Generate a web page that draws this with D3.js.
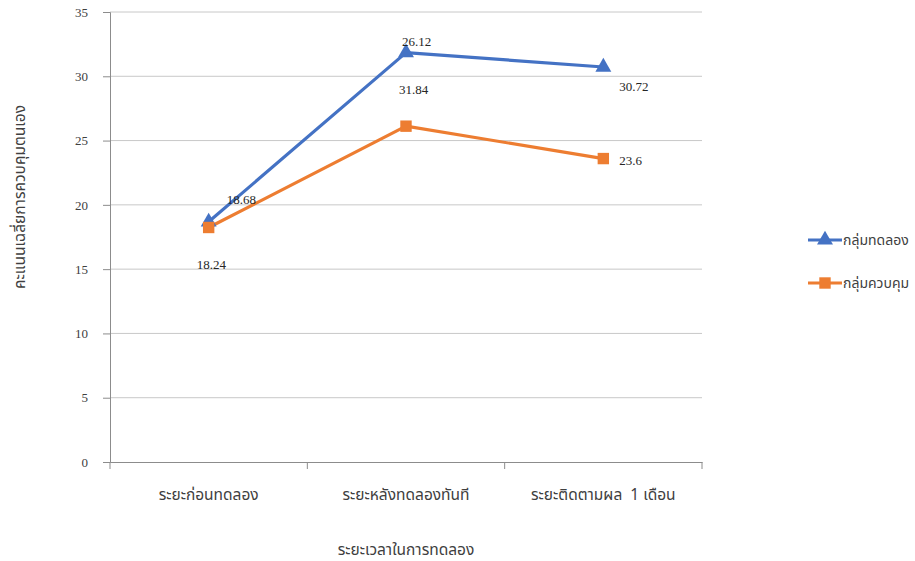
<!DOCTYPE html>
<html>
<head>
<meta charset="utf-8">
<script src="https://cdn.jsdelivr.net/npm/d3@7/dist/d3.min.js"></script>
<style>
  body { margin: 0; background: #fff; }
  svg { display: block; }
</style>
</head>
<body>
<svg id="chart" width="915" height="561"></svg>
<script>
// Categories (time points) and series values
const categories = ["ระยะก่อนทดลอง", "ระยะหลังทดลองทันที", "ระยะติดตามผล  1 เดือน"];
const seriesNames = ["กลุ่มทดลอง", "กลุ่มควบคุม"];
const experimentalValues = [18.68, 31.84, 30.72];
const controlValues = [18.24, 26.12, 23.6];
const yTicks = [0, 5, 10, 15, 20, 25, 30, 35];
const yTitle = "คะแนนเฉลี่ยการควบคุมตนเอง";
const xTitle = "ระยะเวลาในการทดลอง";

const colors = ["#4472C4", "#ED7D31"];
const thaiFont = "'Noto Sans Thai', 'Noto Sans Thai Looped', 'Noto Sans', 'DejaVu Sans', sans-serif";
const numFont = "'Liberation Serif', 'Times New Roman', serif";

const svg = d3.select("#chart");
const plot = { left: 110, right: 702, top: 12, bottom: 462 };

const x = d3.scaleBand().domain(categories).range([plot.left, plot.right]);
const y = d3.scaleLinear().domain([0, 35]).range([plot.bottom, plot.top]);

// horizontal gridlines
svg.append("g").selectAll("line").data(yTicks.filter(d => d > 0)).join("line")
  .attr("x1", plot.left).attr("x2", plot.right)
  .attr("y1", d => y(d)).attr("y2", d => y(d))
  .attr("stroke", "#c8c8c8").attr("stroke-width", 1);

// y axis
const yAxis = svg.append("g").attr("transform", `translate(${plot.left},0)`)
  .call(d3.axisLeft(y).tickValues(yTicks).tickSize(7).tickPadding(15));
yAxis.select(".domain").attr("stroke", "#8c8c8c");
yAxis.selectAll(".tick line").attr("stroke", "#8c8c8c");
yAxis.selectAll("text").attr("font-family", numFont).attr("font-size", 13).attr("fill", "#404040");

// x axis with ticks at category boundaries
const xAxis = svg.append("g").attr("transform", `translate(0,${plot.bottom})`)
  .call(d3.axisBottom(x).tickSize(0).tickPadding(0));
xAxis.select(".domain").attr("stroke", "#8c8c8c");
xAxis.selectAll(".tick text").remove();
const bounds = categories.map(c => x(c)).concat([x(categories[categories.length - 1]) + x.bandwidth()]);
svg.append("g").selectAll("line").data(bounds).join("line")
  .attr("x1", d => d).attr("x2", d => d)
  .attr("y1", plot.bottom).attr("y2", plot.bottom + 7)
  .attr("stroke", "#8c8c8c");

// category labels
svg.append("g").selectAll("text").data(categories).join("text")
  .attr("x", d => x(d) + x.bandwidth() / 2)
  .attr("y", 500)
  .attr("text-anchor", "middle")
  .attr("font-family", thaiFont).attr("font-size", 15.5).attr("fill", "#404040")
  .style("white-space", "pre")
  .text(d => d);

// axis titles
svg.append("text").attr("x", (plot.left + plot.right) / 2).attr("y", 555)
  .attr("text-anchor", "middle").attr("font-family", thaiFont).attr("font-size", 15.5).attr("fill", "#404040")
  .text(xTitle);
svg.append("text").attr("transform", "translate(25,197) rotate(-90)")
  .attr("text-anchor", "middle").attr("font-family", thaiFont).attr("font-size", 15.5).attr("fill", "#404040")
  .text(yTitle);

const cx = c => x(c) + x.bandwidth() / 2;
const series = [experimentalValues, controlValues];
const line = d3.line().x((d, i) => cx(categories[i])).y(d => y(d));

// lines
series.forEach((vals, s) => {
  svg.append("path").datum(vals).attr("d", line)
    .attr("fill", "none").attr("stroke", colors[s]).attr("stroke-width", 3.2)
    .attr("stroke-linejoin", "round");
});

const tri = d3.symbol().type(d3.symbolTriangle).size(110);
const sq = d3.symbol().type(d3.symbolSquare).size(130);

// markers
svg.append("g").selectAll("path").data(experimentalValues).join("path")
  .attr("transform", (d, i) => `translate(${cx(categories[i])},${y(d)})`)
  .attr("d", tri).attr("fill", colors[0]);
svg.append("g").selectAll("path").data(controlValues).join("path")
  .attr("transform", (d, i) => `translate(${cx(categories[i])},${y(d)})`)
  .attr("d", sq).attr("fill", colors[1]);

// value labels, offset from their own marks
const labelOffsets = [
  [[18, -18], [-7, 41], [16, 24]],
  [[-12, 42], [-4, -80], [16, 6]]
];
series.forEach((vals, s) => {
  svg.append("g").selectAll("text").data(vals).join("text")
    .attr("x", (d, i) => cx(categories[i]) + labelOffsets[s][i][0])
    .attr("y", (d, i) => y(d) + labelOffsets[s][i][1])
    .attr("font-family", numFont).attr("font-size", 13).attr("fill", "#262626")
    .text(d => d);
});

// legend
const legend = svg.append("g");
seriesNames.forEach((name, s) => {
  const ly = 240 + s * 43;
  const g = legend.append("g");
  g.append("line").attr("x1", 808).attr("x2", 842).attr("y1", ly).attr("y2", ly)
    .attr("stroke", colors[s]).attr("stroke-width", 3.2);
  g.append("path").attr("transform", `translate(825,${ly})`)
    .attr("d", s === 0 ? tri : sq).attr("fill", colors[s]);
  g.append("text").attr("x", 843).attr("y", ly + 5)
    .attr("font-family", thaiFont).attr("font-size", 14).attr("fill", "#404040")
    .text(name);
});
</script>
</body>
</html>
